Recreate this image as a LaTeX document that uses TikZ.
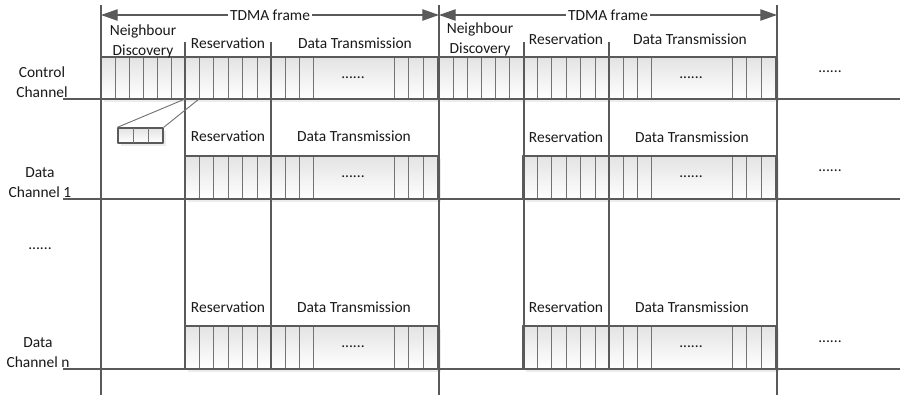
\documentclass[tikz,border=0pt]{standalone}
\usepackage{fontspec}
\setmainfont{Carlito}
\usetikzlibrary{arrows.meta}
\definecolor{linegray}{HTML}{5A5A5A}
\tikzset{>=Triangle}

\begin{document}
\begin{tikzpicture}[x=0.03cm, y=-0.03cm, line join=round,
    line/.style={draw=linegray, line width=1.1pt},
    cell/.style={draw=linegray!85, line width=0.8pt},
    chbox/.style={top color=black!11, bottom color=white, draw=linegray, line width=1.1pt},
    shadowbox/.style={fill=black!7},
    lbl/.style={font=\fontsize{13.2}{17}\selectfont, text=black!90, inner sep=0pt, align=center},
    tdma/.style={line, {Triangle[length=0.5cm,width=0.34cm]}-{Triangle[length=0.5cm,width=0.34cm]}},
    lensbox/.style={chbox, minimum width=1.35cm, minimum height=0.45cm, inner sep=0pt}]
    \useasboundingbox (0,0) rectangle (900,395);

    \foreach \o in {0,338} {
        \fill[shadowbox] (104+\o,60) rectangle (441+\o,102);
        \path[chbox] (101+\o,57) rectangle (438+\o,99);
        \foreach \c in {115,129,143,157,171,199,213,228,242,257,285,299,313,394,408,423}
            \draw[cell] (\c+\o,57) -- (\c+\o,99);
        \draw[line] (101+\o,57) rectangle (438+\o,99);
        \foreach \y in {156,326} {
            \fill[shadowbox] (188+\o,\y+3) rectangle (441+\o,\y+46);
            \path[chbox] (185+\o,\y) rectangle (438+\o,\y+43);
            \foreach \c in {199,213,228,242,257,285,299,313,394,408,423}
                \draw[cell] (\c+\o,\y) -- (\c+\o,\y+43);
            \draw[line] (185+\o,\y) rectangle (438+\o,\y+43);
        }
    }

    \foreach \y in {99,199,369}
        \draw[line] (63,\y) -- (900,\y);
    \foreach \x in {101,439,777}
        \draw[line] (\x,5) -- (\x,395);
    \foreach \x in {185,271,524,609}
        \draw[line] (\x,42) -- (\x,369);

    \coordinate (fa) at (101,15);
    \coordinate (fb) at (439,15);
    \coordinate (fc) at (777,15);
    \draw[tdma] (fa) -- (fb) node[lbl, midway, fill=white, inner xsep=1.5pt] (tdmaA) {TDMA frame};
    \draw[tdma] (fb) -- (fc) node[lbl, midway, fill=white, inner xsep=1.5pt] (tdmaB) {TDMA frame};

    \node[lbl] (ndA) at (143,41) {Neighbour\\Discovery};
    \node[lbl] (resA) at (228,43) {Reservation};
    \node[lbl] (dtA) at (355,43) {Data Transmission};
    \node[lbl] (ndB) at (480,39) {Neighbour\\Discovery};
    \node[lbl] (resB) at (566,39) {Reservation};
    \node[lbl] (dtB) at (690,39) {Data Transmission};

    \node[lbl] (resA1) at (228,136) {Reservation};
    \node[lbl] (dtA1) at (354,136) {Data Transmission};
    \node[lbl] (resB1) at (566,137) {Reservation};
    \node[lbl] (dtB1) at (692,137) {Data Transmission};
    \node[lbl] (resAn) at (228,307) {Reservation};
    \node[lbl] (dtAn) at (354,307) {Data Transmission};
    \node[lbl] (resBn) at (566,307) {Reservation};
    \node[lbl] (dtBn) at (692,307) {Data Transmission};

    \node[lbl] (ctrl) at (42,82) {Control\\Channel};
    \node[lbl] (dch1) at (40,183) {Data\\Channel 1};
    \node[lbl] (dchn) at (38,353) {Data\\Channel n};
    \node[lbl] (moreCh) at (40,249) {......};

    \foreach \o in {0,338} {
        \node[lbl] at (353+\o,78) {......};
        \node[lbl] at (353+\o,177) {......};
        \node[lbl] at (353+\o,347) {......};
    }
    \node[lbl] (moreC) at (830,72) {......};
    \node[lbl] (more1) at (830,171) {......};
    \node[lbl] (moren) at (830,342) {......};

    \fill[shadowbox] (121,131) rectangle (166,146);
    \node[lensbox] (lens) at (140.5,135.5) {};
    \draw[cell] (133,128) -- (133,143);
    \draw[cell] (148,128) -- (148,143);
    \coordinate (zoomA) at (185,99);
    \coordinate (zoomB) at (199,99);
    \draw[cell] (lens.north west) -- (zoomA);
    \draw[cell] (lens.north east) -- (zoomB);
\end{tikzpicture}
\end{document}
